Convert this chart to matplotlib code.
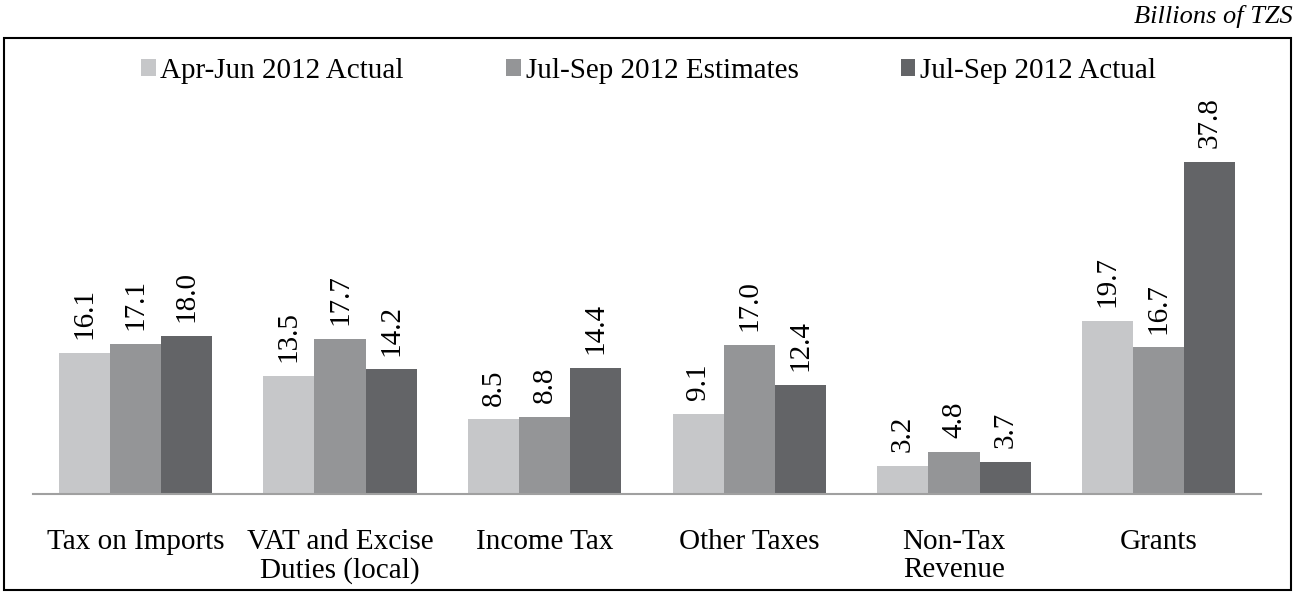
import numpy as np
import matplotlib
matplotlib.use('Agg')
import matplotlib.pyplot as plt
from matplotlib.patches import Rectangle

plt.rcParams['font.family'] = ['Liberation Serif', 'DejaVu Serif']

categories = ['Tax on Imports', 'VAT and Excise\nDuties (local)', 'Income Tax',
              'Other Taxes', 'Non-Tax\nRevenue', 'Grants']
series = ['Apr-Jun 2012 Actual', 'Jul-Sep 2012 Estimates', 'Jul-Sep 2012 Actual']
apr_jun_actual = [16.1, 13.5, 8.5, 9.1, 3.2, 19.7]
jul_sep_est = [17.1, 17.7, 8.8, 17.0, 4.8, 16.7]
jul_sep_actual = [18.0, 14.2, 14.4, 12.4, 3.7, 37.8]
colors = ['#c6c7c9', '#949597', '#636467']

fig = plt.figure(figsize=(12.95, 5.92), dpi=100)
ax = fig.add_axes([0.0255, 0.1655, 0.9483, 0.5929])

x = np.arange(len(categories))
w = 0.25
handles = []
for i, vals in enumerate([apr_jun_actual, jul_sep_est, jul_sep_actual]):
    bars = ax.bar(x + (i - 1) * w, vals, w, color=colors[i], linewidth=0)
    handles.append(bars)
    for b, v in zip(bars, vals):
        ax.annotate('%.1f' % v, (b.get_x() + b.get_width() / 2, b.get_height()),
                    xytext=(0, 10), textcoords='offset points', rotation=90,
                    ha='center', va='bottom', fontsize=21, annotation_clip=False)

ax.set_xlim(-0.5, 5.5)
ax.set_ylim(0, 40)
ax.set_yticks([])
ax.set_xticks(x)
ax.set_xticklabels(categories, fontsize=21, linespacing=1.1)
ax.tick_params(axis='x', length=0, pad=25)
for s in ['top', 'right', 'left']:
    ax.spines[s].set_visible(False)
ax.spines['bottom'].set_color('#a0a0a0')
ax.spines['bottom'].set_linewidth(1.5)

fig.legend(handles, series, loc='center', bbox_to_anchor=(0.5008, 0.880), ncol=3,
           frameon=False, fontsize=21, handlelength=0.5, handleheight=0.5,
           handletextpad=0.17, columnspacing=3.5)

fig.patches.append(Rectangle((0.0031, 0.0034), 0.9938, 0.9324, transform=fig.transFigure,
                             fill=False, edgecolor='black', linewidth=1.5))
fig.text(0.998, 1 - 16 / 592, 'Billions of TZS', ha='right', va='center',
         fontsize=19, style='italic')

plt.savefig('out.png', dpi=100)
